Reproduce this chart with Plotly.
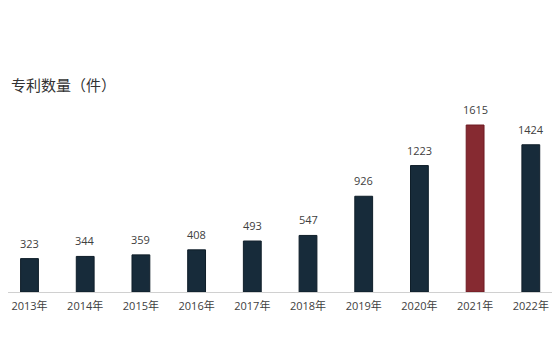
import plotly.graph_objects as go

years = ["2013年", "2014年", "2015年", "2016年", "2017年", "2018年", "2019年", "2020年", "2021年", "2022年"]
patents = [323, 344, 359, 408, 493, 547, 926, 1223, 1615, 1424]
highlight_year = "2021年"

dark = "#172b3a"
red = "#862a31"
colors = [red if y == highlight_year else dark for y in years]
line_colors = ["#6e1a22" if y == highlight_year else "#0f1e29" for y in years]

fig = go.Figure(go.Bar(
    x=years, y=patents,
    marker=dict(color=colors, line=dict(color=line_colors, width=1)),
    cliponaxis=False,
))

annotations = [dict(text="专利数量（件）", xref="paper", yref="paper", x=0, y=1,
                    xanchor="left", yanchor="bottom", showarrow=False,
                    xshift=1, yshift=3,
                    font=dict(size=15, color="#333333",
                              family="Noto Sans CJK SC, sans-serif"))]
for yr, v in zip(years, patents):
    annotations.append(dict(x=yr, y=v, xref="x", yref="y", text=str(v),
                            showarrow=False, yanchor="bottom", yshift=6,
                            font=dict(size=11, color="#404040")))

fig.update_layout(
    width=552, height=352,
    margin=dict(l=0, r=0, t=92, b=68),
    paper_bgcolor="white", plot_bgcolor="white",
    font=dict(family="Open Sans, Noto Sans CJK SC, sans-serif", size=11, color="#404040"),
    bargap=0.68,
    showlegend=False,
    xaxis=dict(showline=True, linecolor="#d0d0d0", linewidth=1, ticks="",
               range=[-0.386, 9.524], ticklabelstandoff=4,
               tickfont=dict(size=11, color="#404040"), showgrid=False),
    yaxis=dict(visible=False, range=[0, 1857], showgrid=False, zeroline=False),
    annotations=annotations,
)

fig.write_html("out.html")
